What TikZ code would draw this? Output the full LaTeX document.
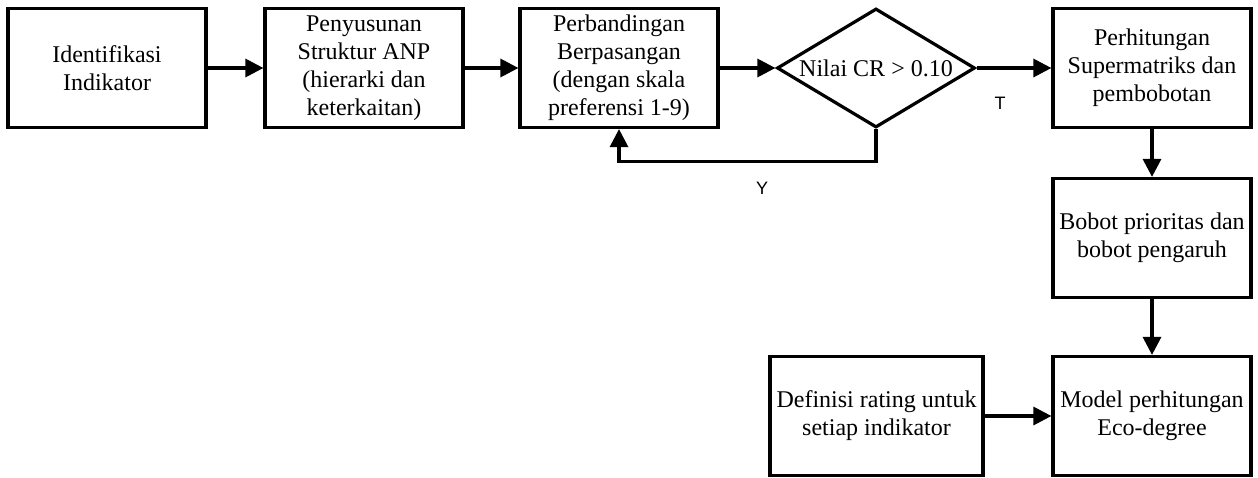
\documentclass[tikz,border=0pt]{standalone}
\usepackage{fontspec}
\setmainfont{Liberation Serif}
\newfontfamily\lblfont{Liberation Sans}
\usetikzlibrary{shapes.geometric,arrows.meta}

\begin{document}
\begin{tikzpicture}
    [
    x = 0.5pt, y = -0.5pt,
    every node/.style = {font=\fontsize{12}{14}\selectfont, align=center},
    procbox/.style    = {rectangle, draw, line width=1.6pt, minimum width=99pt, minimum height=59.5pt, inner sep=1pt},
    decision/.style   = {diamond, draw, line width=1.6pt, aspect=1.66, inner sep=0pt, minimum width=99pt, minimum height=59.5pt},
    arr/.style        = {line width=1.6pt, -{Triangle[length=9pt,width=9pt]}},
    lbl/.style        = {font=\lblfont\fontsize{9}{10}\selectfont, inner sep=0pt}
    ]
    \useasboundingbox (0,0) rectangle (1258,477);
    % top row
    \node [procbox] (ident)  at (107,68)  {Identifikasi\\Indikator};
    \node [procbox] (struk)  at (364,68)  {Penyusunan\\Struktur ANP\\(hierarki dan\\keterkaitan)};
    \node [procbox] (banding) at (619,68) {Perbandingan\\Berpasangan\\(dengan skala\\preferensi 1-9)};
    \node [decision] (cr)    at (876,68)  {Nilai CR > 0.10};
    \node [procbox] (super)  at (1152,68) {Perhitungan\\Supermatriks dan\\pembobotan};
    % right column
    \node [procbox] (bobot)  at (1152,238) {Bobot prioritas dan\\bobot pengaruh};
    \node [procbox] (model)  at (1152,416) {Model perhitungan\\Eco-degree};
    \node [procbox, minimum width=106.5pt] (rating) at (876.5,416) {Definisi rating untuk\\setiap indikator};
    % connectors
    \draw [arr] (ident) -- (struk);
    \draw [arr] (struk) -- (banding);
    \draw [arr] (banding) -- (cr);
    \draw [arr] (cr) -- (super);
    \draw [arr] (cr.south) -- ++(0,32) -| (banding.south);
    \draw [arr] (super) -- (bobot);
    \draw [arr] (bobot) -- (model);
    \draw [arr] (rating) -- (model);
    % branch labels
    \node [lbl] (tlbl) at (1000,103) {T};
    \node [lbl] (ylbl) at (762,188)  {Y};
\end{tikzpicture}
\end{document}
